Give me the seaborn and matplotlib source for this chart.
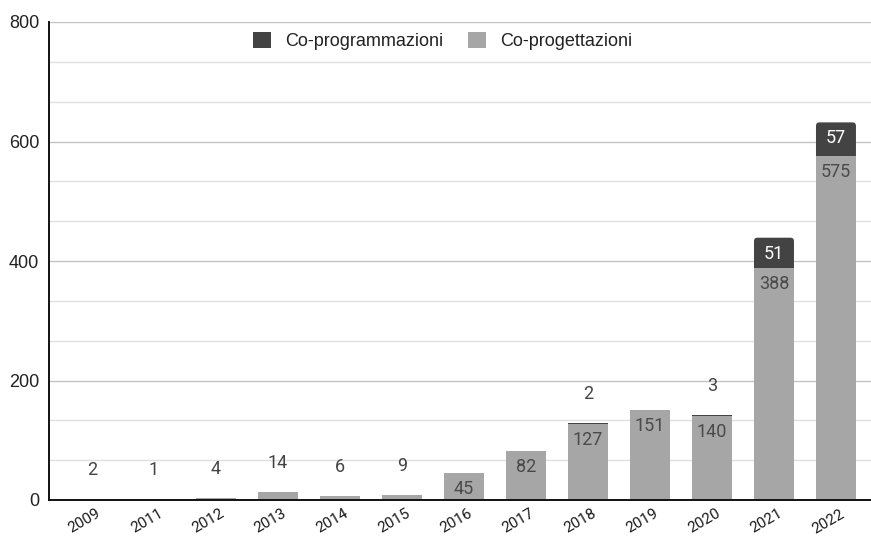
import matplotlib
matplotlib.use("Agg")
import matplotlib.pyplot as plt
from matplotlib.patches import FancyBboxPatch, Patch
from matplotlib.ticker import MultipleLocator
from matplotlib.transforms import ScaledTranslation
import seaborn as sns
import pandas as pd

# Numero di co-progettazioni e co-programmazioni per anno
years = ["2009", "2011", "2012", "2013", "2014", "2015", "2016",
         "2017", "2018", "2019", "2020", "2021", "2022"]
coprogettazioni = [2, 1, 4, 14, 6, 9, 45, 82, 127, 151, 140, 388, 575]
coprogrammazioni = [0, 0, 0, 0, 0, 0, 0, 0, 2, 0, 3, 51, 57]
y_ticks = [0, 200, 400, 600, 800]

DARK = "#434343"
LIGHT = "#a6a6a6"
BAR_W = 0.645

sns.set_theme(style="white")
plt.rcParams["font.family"] = ["Liberation Sans", "DejaVu Sans"]

df = pd.DataFrame({"anno": years,
                   "prog": coprogettazioni,
                   "progr": coprogrammazioni})
df["totale"] = df["prog"] + df["progr"]

W, H = 871, 537
fig = plt.figure(figsize=(W / 100, H / 100), dpi=100)
ax_left, ax_bottom, ax_w, ax_h = 49, 37, 822, 478
ax = fig.add_axes([ax_left / W, ax_bottom / H, ax_w / W, ax_h / H])

# Stacked bars: total in dark, co-progettazioni drawn over it in light grey
sns.barplot(data=df, x="anno", y="totale", color=DARK, saturation=1,
            width=BAR_W, linewidth=0, ax=ax, zorder=2)
dark_patches = list(ax.patches)
sns.barplot(data=df, x="anno", y="prog", color=LIGHT, saturation=1,
            width=BAR_W, linewidth=0, ax=ax, zorder=3)

xmin, xmax = -0.694, 12.565
ymin, ymax = 0, 800
ax.set_xlim(xmin, xmax)
ax.set_ylim(ymin, ymax)

x_per_px = (xmax - xmin) / ax_w
y_per_px = (ymax - ymin) / ax_h
px_per_y = 1 / y_per_px

# Rounded top corners on the visible dark segments
radius = 3.5 * x_per_px
for rect, p, q in zip(dark_patches, coprogettazioni, coprogrammazioni):
    if q * px_per_y < 10:
        continue
    x0, w = rect.get_x(), rect.get_width()
    top = rect.get_y() + rect.get_height()
    base = p - 10
    fb = FancyBboxPatch((x0, base), w, top - base,
                        boxstyle=f"round,pad=0,rounding_size={radius}",
                        mutation_aspect=y_per_px / x_per_px,
                        facecolor=DARK, edgecolor="none", zorder=2)
    ax.add_patch(fb)
    rect.remove()

# Value labels
lab_font = dict(family=["Roboto", "DejaVu Sans"], size=13)
for i, (p, q) in enumerate(zip(coprogettazioni, coprogrammazioni)):
    stack_top = p + q
    for bottom, val, dark in ((0, p, False), (p, q, True)):
        if val <= 0:
            continue
        if val * px_per_y >= 24:
            ax.annotate(str(val), (i, bottom + val), xytext=(0, -11.5),
                        textcoords="offset points", ha="center", va="center",
                        color="white" if dark else "#4a4a4a", zorder=5,
                        **lab_font)
        else:
            ax.annotate(str(val), (i, stack_top), xytext=(0, 20.9),
                        textcoords="offset points", ha="center", va="center",
                        color="#444444", zorder=5, **lab_font)

# Axes styling
ax.set_xlabel("")
ax.set_ylabel("")
ax.set_yticks(y_ticks)
ax.yaxis.set_minor_locator(MultipleLocator(200 / 3))
ax.yaxis.grid(True, which="major", color="#c4c4c4", linewidth=1.0)
ax.yaxis.grid(True, which="minor", color="#e0e0e0", linewidth=1.0)
ax.set_axisbelow(True)
for side in ("top", "right"):
    ax.spines[side].set_visible(False)
for side in ("left", "bottom"):
    ax.spines[side].set_color("#111111")
    ax.spines[side].set_linewidth(1.4)
    ax.spines[side].set_zorder(4)

ax.tick_params(axis="y", which="both", length=0, pad=7, labelsize=13,
               labelcolor="#222222")
ax.tick_params(axis="x", length=0, pad=4, labelsize=11, labelcolor="#1a1a1a")
shift = ScaledTranslation(4 / 100, -1 / 100, fig.dpi_scale_trans)
for lbl in ax.get_xticklabels():
    lbl.set_rotation(30)
    lbl.set_ha("right")
    lbl.set_rotation_mode("anchor")
    lbl.set_family(["Roboto", "DejaVu Sans"])
    lbl.set_transform(lbl.get_transform() + shift)

handles = [Patch(facecolor=DARK, edgecolor="none"),
           Patch(facecolor=LIGHT, edgecolor="none")]
ax.legend(handles, ["Co-programmazioni", "Co-progettazioni"],
          loc="center", bbox_to_anchor=(0.479, 0.960), ncol=2, frameon=False,
          fontsize=13, handlelength=0.95, handleheight=0.95,
          handletextpad=0.8, columnspacing=1.4, labelcolor="#222222")

fig.savefig("out.png", dpi=100)
